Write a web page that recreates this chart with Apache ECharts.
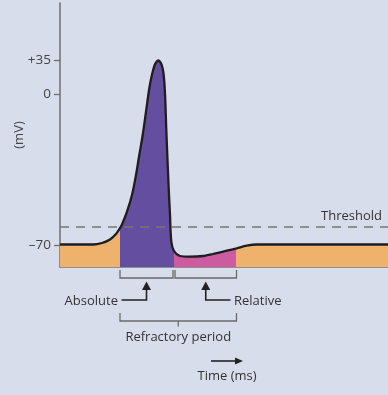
<!DOCTYPE html>
<html><head><meta charset="utf-8">
<script src="https://cdn.jsdelivr.net/npm/echarts@6/dist/echarts.min.js"></script>
<style>html,body{margin:0;padding:0;background:#d8ddec}#c{width:388px;height:395px}</style>
</head><body><div id="c"></div>
<script>
// time (schematic units) and membrane potential (schematic display units)
const timeAxis = [0, 33, 42, 50, 56, 60, 62, 67, 72, 76, 79.3, 82.7, 86, 89.3, 91.8, 94.5, 96.6, 98.3, 100.2, 101.9, 103.3, 104.4, 105.3, 106.2, 107.3, 108.7, 110, 111.3, 114, 120, 130, 143, 153, 166.7, 176.7, 186.7, 196.7, 328];
const potential = [22.5, 22.5, 24, 27.5, 33, 39, 42.5, 55.3, 72, 92, 112, 132, 155.3, 178.7, 191.5, 201.5, 205.3, 206.5, 205, 201.5, 195, 184, 167, 140, 112, 78.7, 52, 25.3, 16, 11, 10.3, 11, 13, 16.3, 18.7, 21.3, 22.5, 22.5];
const tickValues = [22, 173, 207];
const tickLabels = ['–70', '0', '+35'];
const phaseBounds = [60, 114, 176.5]; // absolute start, relative start, relative end
const phaseColors = ['#efb26c', '#644e9f', '#cc5b9f', '#efb26c'];
const thresholdLevel = 40.3;
const labels = { absolute: 'Absolute', relative: 'Relative', period: 'Refractory period', threshold: 'Threshold', yName: '(mV)', xName: 'Time (ms)' };

const FONT = '"Open Sans", "Noto Sans", sans-serif';
const chart = echarts.init(document.getElementById('c'), null, { renderer: 'canvas' });
const curve = timeAxis.map((t, i) => [t, potential[i]]);

chart.setOption({
  backgroundColor: '#d8ddec',
  animation: false,
  grid: { left: 60, right: 0, top: 3, bottom: 128, containLabel: false, outerBoundsMode: 'none' },
  xAxis: {
    type: 'value', min: 0, max: 328,
    axisLine: { show: true, lineStyle: { color: '#777', width: 1.5 } },
    axisTick: { show: false }, axisLabel: { show: false }, splitLine: { show: false },
    name: labels.xName, nameLocation: 'middle', nameGap: 103, nameMoveOverlap: false,
    nameTextStyle: { color: '#333', fontSize: 13, fontFamily: FONT, padding: [0, 0, 0, 6] }
  },
  yAxis: {
    type: 'value', min: 0, max: 264,
    axisLine: { show: true, lineStyle: { color: '#6f6f6f', width: 1.5 } },
    axisTick: { show: true, customValues: tickValues, length: 6, lineStyle: { color: '#6f6f6f', width: 1.3 } },
    axisLabel: {
      show: true, customValues: tickValues, margin: 9, color: '#444', fontSize: 13.5, fontFamily: FONT,
      formatter: v => tickLabels[tickValues.indexOf(v)]
    },
    splitLine: { show: false },
    name: labels.yName, nameLocation: 'middle', nameGap: 34, nameMoveOverlap: false,
    nameTextStyle: { color: '#444', fontSize: 13, fontFamily: FONT }
  },
  visualMap: {
    show: false, type: 'piecewise', dimension: 0, seriesIndex: 1,
    pieces: [
      { lt: phaseBounds[0], color: phaseColors[0] },
      { gte: phaseBounds[0], lt: phaseBounds[1], color: phaseColors[1] },
      { gte: phaseBounds[1], lt: phaseBounds[2], color: phaseColors[2] },
      { gte: phaseBounds[2], color: phaseColors[3] }
    ]
  },
  series: [
    {
      type: 'line', z: 1, data: [], silent: true,
      markLine: {
        silent: true, symbol: 'none', animation: false,
        data: [{ yAxis: thresholdLevel }],
        lineStyle: { color: '#777', type: [9, 7], width: 1.6 },
        label: { show: true, position: 'insideEndTop', formatter: labels.threshold, color: '#333', fontSize: 13, fontFamily: FONT, distance: [6, 4] }
      }
    },
    {
      type: 'line', z: 2, data: curve, smooth: 0.3, showSymbol: false, silent: true,
      lineStyle: { width: 0, opacity: 0 },
      areaStyle: { opacity: 1 }
    },
    {
      type: 'line', z: 3, data: curve, smooth: 0.3, showSymbol: false, silent: true,
      lineStyle: { color: '#1e1e1e', width: 2.3 }
    }
  ]
});

// annotation brackets and arrows, positioned from the phase boundaries
const px = t => chart.convertToPixel({ gridIndex: 0 }, [t, 0])[0];
const base = chart.convertToPixel({ gridIndex: 0 }, [0, 0])[1];
const x0 = px(phaseBounds[0]), x1 = px(phaseBounds[1]), x2 = px(phaseBounds[2]);
const bL = x0, bR = x1 - 1, cL = x1 + 1, cR = x2;
const a1 = (bL + bR) / 2, a2 = (cL + cR) / 2, mid = (x0 + x2) / 2;
const grey = { stroke: '#6a6a6a', lineWidth: 1.3, fill: null };
const dark = { stroke: '#222', lineWidth: 1.6, fill: null };
const txt = (text, x, y, align) => ({ type: 'text', style: { text, x, y, fill: '#333', font: '13px ' + FONT, textAlign: align, textVerticalAlign: 'middle' } });
const head = (x, y) => ({ type: 'polygon', shape: { points: [[x, y], [x - 4.5, y + 8.5], [x + 4.5, y + 8.5]] }, style: { fill: '#222' } });

chart.setOption({
  graphic: [
    { type: 'polyline', shape: { points: [[bL, base + 3], [bL, base + 11], [bR, base + 11], [bR, base + 3]] }, style: grey },
    { type: 'polyline', shape: { points: [[cL, base + 3], [cL, base + 11], [cR, base + 11], [cR, base + 3]] }, style: grey },
    { type: 'polyline', shape: { points: [[bL + 1.5, base + 33], [a1, base + 33], [a1, base + 22]] }, style: dark },
    head(a1, base + 14.5),
    { type: 'polyline', shape: { points: [[cR - 6, base + 33], [a2, base + 33], [a2, base + 22]] }, style: dark },
    head(a2, base + 14.5),
    txt(labels.absolute, bL - 2, base + 34, 'right'),
    txt(labels.relative, cR - 2.5, base + 34, 'left'),
    { type: 'polyline', shape: { points: [[x0, base + 46], [x0, base + 54], [x2, base + 54], [x2, base + 46]] }, style: grey },
    { type: 'polyline', shape: { points: [[mid, base + 54], [mid, base + 59.5]] }, style: grey },
    txt(labels.period, mid, base + 70, 'center'),
    { type: 'polyline', shape: { points: [[211, base + 94], [237, base + 94]] }, style: dark },
    { type: 'polygon', shape: { points: [[243, base + 94], [235, base + 90.5], [235, base + 97.5]] }, style: { fill: '#222' } }
  ]
});
</script></body></html>
